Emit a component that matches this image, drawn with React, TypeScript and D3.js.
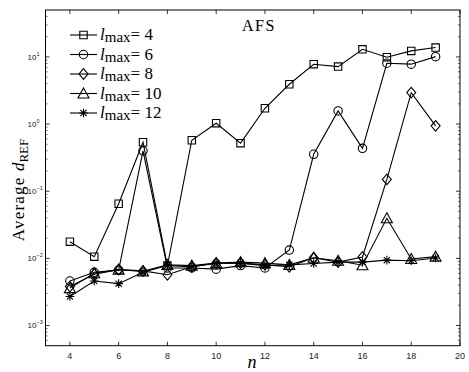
import React from "react";
import * as d3 from "d3";

// observed series, n = 4 .. 19
const nValues = [4, 5, 6, 7, 8, 9, 10, 11, 12, 13, 14, 15, 16, 17, 18, 19];
const lmax4 = [0.0177, 0.0106, 0.065, 0.536, 0.0078, 0.574, 1.03, 0.52, 1.72, 3.92, 7.79, 7.18, 13.0, 9.9, 12.3, 13.8];
const lmax6 = [0.0046, 0.0062, 0.0067, 0.4, 0.0072, 0.0072, 0.0069, 0.0078, 0.0072, 0.0133, 0.355, 1.57, 0.435, 8.05, 7.8, 10.1];
const lmax8 = [0.0038, 0.0058, 0.0068, 0.0065, 0.0057, 0.0075, 0.0085, 0.0085, 0.008, 0.0075, 0.0102, 0.0088, 0.0105, 0.15, 2.94, 0.94];
const lmax10 = [0.0036, 0.006, 0.0068, 0.0064, 0.008, 0.0078, 0.0085, 0.0088, 0.0085, 0.008, 0.0102, 0.0092, 0.0079, 0.0395, 0.0098, 0.0106];
const lmax12 = [0.0027, 0.0046, 0.0042, 0.0062, 0.0078, 0.0075, 0.0085, 0.0085, 0.0078, 0.008, 0.0084, 0.0088, 0.0088, 0.0094, 0.0092, 0.0101];

const seriesNames = ["4", "6", "8", "10", "12"];
const seriesMarkers = ["square", "circle", "diamond", "triangle", "asterisk"];
const xTicks = [4, 6, 8, 10, 12, 14, 16, 18, 20];
const yExponents = [-3, -2, -1, 1, 0];

const W = 469;
const H = 372;
const left = 45.5;
const right = 460;
const top = 10;
const bottom = 345.7;

// marker shapes, MATLAB-like
const shapes: Record<string, any> = {
  square: {
    draw(ctx: any) {
      const s = 3.7;
      ctx.moveTo(-s, -s);
      ctx.lineTo(s, -s);
      ctx.lineTo(s, s);
      ctx.lineTo(-s, s);
      ctx.closePath();
    },
  },
  circle: {
    draw(ctx: any) {
      const r = 4.2;
      ctx.moveTo(r, 0);
      ctx.arc(0, 0, r, 0, 2 * Math.PI);
    },
  },
  diamond: {
    draw(ctx: any) {
      ctx.moveTo(0, -5.3);
      ctx.lineTo(4.5, 0);
      ctx.lineTo(0, 5.3);
      ctx.lineTo(-4.5, 0);
      ctx.closePath();
    },
  },
  triangle: {
    draw(ctx: any) {
      ctx.moveTo(0, -5.5);
      ctx.lineTo(5.5, 4.5);
      ctx.lineTo(-5.5, 4.5);
      ctx.closePath();
    },
  },
  asterisk: {
    draw(ctx: any) {
      const r = 4.3;
      const d = r * 0.72;
      ctx.moveTo(-r, 0);
      ctx.lineTo(r, 0);
      ctx.moveTo(0, -r);
      ctx.lineTo(0, r);
      ctx.moveTo(-d, -d);
      ctx.lineTo(d, d);
      ctx.moveTo(-d, d);
      ctx.lineTo(d, -d);
    },
  },
};

export default function App() {
  const series = [lmax4, lmax6, lmax8, lmax10, lmax12];
  const x = d3.scaleLinear().domain([3, 20]).range([left, right]);
  const y = d3.scaleLog().domain([5e-4, 50]).range([bottom, top]);

  const line = d3
    .line<number>()
    .x((_, i) => x(nValues[i]))
    .y((d) => y(d));

  const symbolPath = (name: string) => d3.symbol().type(shapes[name])() as string;

  // minor log ticks
  const minor: number[] = [];
  for (let e = -4; e <= 1; e++) {
    for (let k = 2; k <= 9; k++) {
      const v = k * Math.pow(10, e);
      if (v > 5e-4 && v < 50) minor.push(v);
    }
  }
  const major = yExponents.map((e) => Math.pow(10, e));

  const serif = "'Liberation Serif', 'DejaVu Serif', serif";
  const sans = "'Liberation Sans', Arial, sans-serif";

  return (
    <svg width={W} height={H} style={{ position: "absolute", left: 0, top: 0, background: "#fff" }}>
      <rect x={0} y={0} width={W} height={H} fill="#fff" />

      {/* series lines and markers */}
      {series.map((vals, si) => (
        <g key={si}>
          <path d={line(vals) as string} fill="none" stroke="#000" strokeWidth={1.1} />
          {vals.map((v, i) => (
            <path
              key={i}
              d={symbolPath(seriesMarkers[si])}
              transform={`translate(${x(nValues[i])},${y(v)})`}
              fill="none"
              stroke="#000"
              strokeWidth={1.1}
            />
          ))}
        </g>
      ))}

      {/* box */}
      <rect x={left} y={top} width={right - left} height={bottom - top} fill="none" stroke="#000" strokeWidth={1} />

      {/* x ticks */}
      {xTicks.map((t) => (
        <g key={t}>
          <line x1={x(t)} x2={x(t)} y1={bottom} y2={bottom - 4} stroke="#000" strokeWidth={0.8} />
          <line x1={x(t)} x2={x(t)} y1={top} y2={top + 4} stroke="#000" strokeWidth={0.8} />
          <text x={x(t)} y={bottom + 13} textAnchor="middle" fontFamily={sans} fontSize={9} fill="#222">
            {t}
          </text>
        </g>
      ))}

      {/* y ticks */}
      {minor.map((v, i) => (
        <g key={"m" + i}>
          <line x1={left} x2={left + 2} y1={y(v)} y2={y(v)} stroke="#000" strokeWidth={0.6} />
          <line x1={right} x2={right - 2} y1={y(v)} y2={y(v)} stroke="#000" strokeWidth={0.6} />
        </g>
      ))}
      {major.map((v, i) => (
        <g key={"M" + i}>
          <line x1={left} x2={left + 4} y1={y(v)} y2={y(v)} stroke="#000" strokeWidth={0.8} />
          <line x1={right} x2={right - 4} y1={y(v)} y2={y(v)} stroke="#000" strokeWidth={0.8} />
          <text x={left - 9} y={y(v) + 3} textAnchor="end" fontFamily={sans} fontSize={8} fill="#222">
            10
          </text>
          <text x={left - 9} y={y(v) - 1} textAnchor="start" fontFamily={sans} fontSize={5.5} fill="#222">
            {yExponents[i] < 0 ? "\u2212" + Math.abs(yExponents[i]) : yExponents[i]}
          </text>
        </g>
      ))}

      {/* title */}
      <text x={259} y={31} textAnchor="middle" fontFamily={serif} fontSize={16} letterSpacing={1.5}>
        AFS
      </text>

      {/* axis labels */}
      <text x={252} y={368} textAnchor="middle" fontFamily={serif} fontStyle="italic" fontSize={18}>
        n
      </text>
      <text transform="translate(24,190) rotate(-90)" textAnchor="middle" fontFamily={serif} fontSize={17}>
        <tspan letterSpacing={1.2}>Average </tspan>
        <tspan fontStyle="italic">d</tspan>
        <tspan fontSize={13} dy={4}>REF</tspan>
      </text>

      {/* legend */}
      {seriesNames.map((name, i) => {
        const ly = 35 + i * 19.5;
        return (
          <g key={name}>
            <line x1={70} x2={97} y1={ly} y2={ly} stroke="#000" strokeWidth={1.1} />
            <path d={symbolPath(seriesMarkers[i])} transform={`translate(83.5,${ly})`} fill="none" stroke="#000" strokeWidth={1.1} />
            <text x={100} y={ly + 5} fontFamily={serif} fontSize={17}>
              <tspan fontStyle="italic">l</tspan>
              <tspan fontSize={15} dy={2}>max</tspan>
              <tspan dy={-2}>= {name}</tspan>
            </text>
          </g>
        );
      })}
    </svg>
  );
}
